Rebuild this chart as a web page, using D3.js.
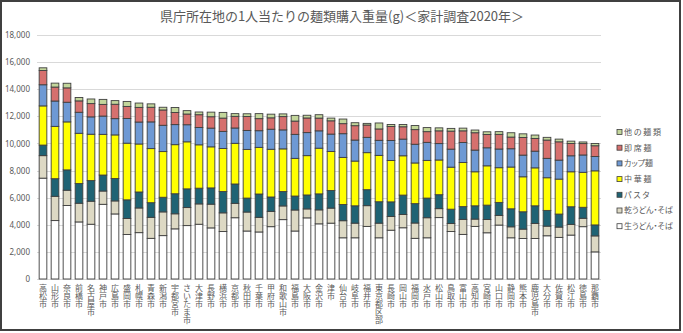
<!DOCTYPE html>
<html>
<head>
<meta charset="utf-8">
<script src="https://cdn.jsdelivr.net/npm/d3@7"></script>
<style>
  html, body { margin: 0; padding: 0; background: #fff; }
  svg { display: block; font-family: "Noto Sans CJK JP", "Noto Sans", sans-serif; }
</style>
</head>
<body>
<div id="chart"></div>
<script>
// 県庁所在地の1人当たり麺類購入重量 (g), 家計調査2020年
const cities = ['高松市', '山形市', '奈良市', '前橋市', '名古屋市', '神戸市', '広島市', '盛岡市', '札幌市', '青森市',
  '新潟市', '宇都宮市', 'さいたま市', '大津市', '長野市', '横浜市', '京都市', '秋田市', '千葉市', '甲府市',
  '和歌山市', '福島市', '大阪市', '金沢市', '津市', '仙台市', '岐阜市', '福井市', '東京都区部', '長崎市',
  '岡山市', '福岡市', '水戸市', '松山市', '鳥取市', '富山市', '高知市', '宮崎市', '山口市', '静岡市',
  '熊本市', '鹿児島市', '大分市', '佐賀市', '松江市', '徳島市', '那覇市'];

const namaUdon = [7440, 4310, 5420, 4210, 4040, 5510, 4800, 3280, 3420, 3000,
  3200, 3700, 3940, 4040, 3770, 3500, 4520, 3540, 3470, 3860,
  4380, 3540, 4510, 4070, 4120, 3040, 3040, 3880, 3040, 3600,
  3780, 3000, 3040, 4530, 3500, 3290, 3880, 3410, 3980, 3040,
  2990, 2990, 3190, 3070, 3240, 3860, 2000];
const kanUdon = [1660, 1790, 1130, 1380, 1700, 980, 960, 1180, 1820, 1550,
  1750, 1110, 1330, 1500, 1750, 1380, 1060, 1400, 1080, 1130,
  1010, 1550, 660, 1030, 1110, 1260, 1080, 1530, 1080, 1010,
  980, 1130, 1480, 660, 590, 1110, 540, 980, 710, 810,
  690, 1110, 710, 760, 790, 620, 1180];
const pasta = [780, 1300, 1500, 1450, 1520, 1180, 1650, 1380, 1180, 1080,
  1080, 1480, 1380, 1160, 1200, 1580, 1430, 1030, 1720, 1060,
  1060, 1030, 1030, 1180, 1300, 1200, 1280, 1180, 1580, 1080,
  1430, 1430, 1450, 1030, 1060, 940, 980, 1060, 960, 1330,
  1280, 1300, 1160, 960, 1300, 810, 810];
const chuka = [2890, 3860, 3540, 3710, 3420, 3000, 3220, 4180, 3540, 3990,
  3370, 3620, 3470, 3200, 3030, 3170, 3000, 3590, 3440, 3520,
  3150, 2780, 2900, 3370, 2880, 3470, 3300, 2730, 3420, 3050,
  2900, 3000, 2780, 2560, 3100, 3250, 2510, 2900, 2560, 3080,
  2580, 2800, 2410, 2580, 2580, 2580, 3990];
const cupMen = [1560, 1870, 1450, 1550, 1280, 1350, 1200, 1820, 1620, 1970,
  1940, 1480, 1260, 1280, 1380, 1260, 1130, 1400, 1230, 1480,
  1400, 1770, 1700, 1280, 1280, 1750, 1550, 1130, 1110, 1480,
  1230, 1380, 1330, 1210, 1330, 1480, 1600, 1330, 1380, 1350,
  1600, 1230, 1430, 1400, 1180, 1280, 1060];
const sokusekiMen = [1050, 1030, 1060, 840, 980, 860, 1060, 890, 1080, 1080,
  1130, 890, 790, 940, 840, 980, 860, 1030, 890, 840,
  980, 980, 1080, 940, 980, 740, 1060, 910, 840, 1030,
  910, 1080, 790, 940, 1330, 860, 1280, 980, 1080, 860,
  1300, 940, 1350, 1350, 910, 840, 790];
const sonota = [200, 290, 340, 250, 340, 370, 270, 370, 320, 250,
  200, 370, 250, 200, 340, 420, 200, 200, 370, 270,
  200, 420, 200, 250, 200, 340, 220, 120, 440, 150,
  170, 300, 300, 220, 200, 200, 200, 200, 200, 320,
  270, 250, 200, 200, 170, 120, 170];

const yTicks = [0, 2000, 4000, 6000, 8000, 10000, 12000, 14000, 16000, 18000];

// series, bottom to top
const seriesKeys = ['nama', 'kan', 'pasta', 'chuka', 'cup', 'sokuseki', 'sonota'];
const seriesNames = ['生うどん・そば', '乾うどん・そば', 'パ ス タ', '中 華 麺', 'カップ麺', '即 席 麺', '他 の 麺 類'];
const seriesColors = ['#ffffff', '#ddd9c4', '#1f6374', '#ffff00', '#6e99d4', '#d6706e', '#c3d69b'];
const seriesValues = [namaUdon, kanUdon, pasta, chuka, cupMen, sokusekiMen, sonota];

const width = 683;
const height = 333;
const plot = { left: 37, right: 601, top: 35, bottom: 279 };

const textColor = '#595959';
const gridColor = '#d9d9d9';
const outline = '#3f3f3f';

const rows = cities.map((city, i) => {
  const row = { city };
  seriesKeys.forEach((key, k) => { row[key] = seriesValues[k][i]; });
  return row;
});

const stacked = d3.stack().keys(seriesKeys)(rows);

const x = d3.scaleBand().domain(cities).range([plot.left, plot.right]).paddingInner(0.36).paddingOuter(0.18);
const y = d3.scaleLinear().domain([0, 18000]).range([plot.bottom, plot.top]);

const svg = d3.select('#chart')
  .append('svg')
  .attr('width', width)
  .attr('height', height)
  .attr('viewBox', `0 0 ${width} ${height}`);

svg.append('rect')
  .attr('x', 0).attr('y', 0)
  .attr('width', width).attr('height', height)
  .attr('fill', '#ffffff');

/* Chart border */
svg.append('rect')
  .attr('x', 1).attr('y', 1)
  .attr('width', 679).attr('height', 329)
  .attr('fill', 'none')
  .attr('stroke', '#404040')
  .attr('stroke-width', 2);

/* Title */
svg.append('text')
  .attr('x', 342)
  .attr('y', 21)
  .attr('text-anchor', 'middle')
  .attr('fill', textColor)
  .attr('font-size', 13)
  .text('県庁所在地の1人当たりの麺類購入重量(g)＜家計調査2020年＞');

/* Grid + y axis labels */
const yAxis = svg.append('g')
  .attr('transform', `translate(${plot.left},0)`)
  .call(d3.axisLeft(y)
    .tickValues(yTicks)
    .tickSize(-(plot.right - plot.left))
    .tickPadding(7)
    .tickFormat(d3.format(',')));

yAxis.select('.domain').remove();
yAxis.selectAll('line').attr('stroke', gridColor).attr('shape-rendering', 'crispEdges');
yAxis.selectAll('text')
  .attr('fill', textColor)
  .attr('font-size', 8)
  .attr('font-family', '"Noto Sans", sans-serif');

/* Stacked bars */
svg.append('g')
  .selectAll('g.series')
  .data(stacked)
  .join('g')
  .attr('class', 'series')
  .attr('fill', (d, i) => seriesColors[i])
  .selectAll('rect')
  .data((d) => d)
  .join('rect')
  .attr('x', (d) => x(d.data.city))
  .attr('y', (d) => y(d[1]))
  .attr('width', x.bandwidth())
  .attr('height', (d) => y(d[0]) - y(d[1]))
  .attr('stroke', outline)
  .attr('stroke-width', 0.9);

/* X axis: city names stacked one character per line */
const xLabels = svg.append('g').attr('class', 'x-labels');

cities.forEach((city) => {
  const cx = x(city) + x.bandwidth() / 2;
  const label = xLabels.append('text')
    .attr('x', cx)
    .attr('y', plot.bottom + 5)
    .attr('text-anchor', 'middle')
    .attr('fill', textColor)
    .attr('font-size', 8);

  Array.from(city).forEach((ch, k) => {
    label.append('tspan')
      .attr('x', cx)
      .attr('dy', k === 0 ? '0.9em' : '1em')
      .text(ch);
  });
});

/* Legend */
const legend = svg.append('g').attr('transform', 'translate(617,132)');

const legendItems = legend.selectAll('g.legend-item')
  .data(seriesNames.map((name, i) => ({ name, color: seriesColors[i] })).reverse())
  .join('g')
  .attr('class', 'legend-item')
  .attr('transform', (d, i) => `translate(0,${i * 15.7})`);

legendItems.append('rect')
  .attr('x', 0)
  .attr('y', -2.5)
  .attr('width', 5)
  .attr('height', 5)
  .attr('fill', (d) => d.color)
  .attr('stroke', outline)
  .attr('stroke-width', 0.8);

legendItems.append('text')
  .attr('x', 7)
  .attr('y', 0)
  .attr('dy', '0.35em')
  .attr('fill', textColor)
  .attr('font-size', 8)
  .style('font-feature-settings', '"palt"')
  .text((d) => d.name);
</script>
</body>
</html>
